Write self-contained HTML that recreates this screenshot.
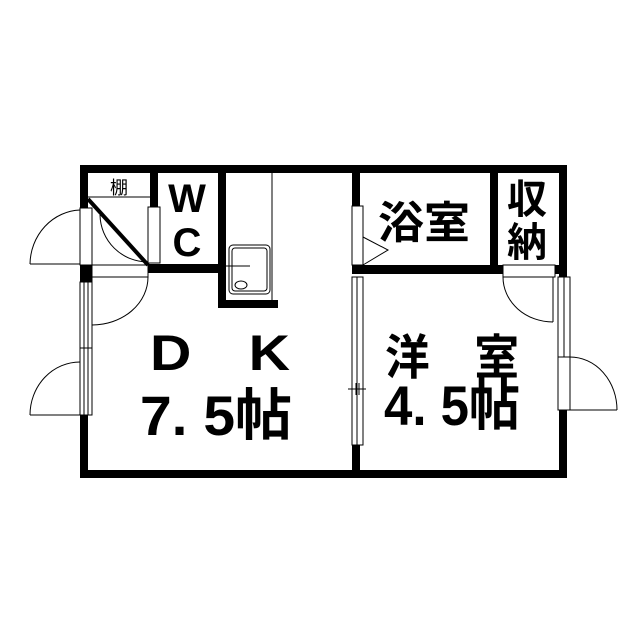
<!DOCTYPE html>
<html><head><meta charset="utf-8"><style>body{margin:0;background:#fff}svg{display:block}text{font-family:"Liberation Sans","Noto Sans CJK JP",sans-serif;fill:#000;font-weight:bold}</style></head><body>
<svg width="640" height="640" viewBox="0 0 640 640" xmlns="http://www.w3.org/2000/svg">
<rect width="640" height="640" fill="#fff"/>
<g fill="#000">
<rect x="80" y="165" width="487" height="8"/>
<rect x="80" y="470" width="487" height="8"/>
<rect x="80" y="165" width="8" height="44"/>
<rect x="80" y="264" width="12" height="18"/>
<rect x="80" y="414" width="8" height="64"/>
<rect x="559" y="165" width="8" height="113"/>
<rect x="559" y="409" width="8" height="69"/>
<rect x="150" y="165" width="8" height="43"/>
<rect x="148" y="264" width="78" height="9"/>
<rect x="218" y="165" width="8" height="143"/>
<rect x="218" y="300" width="60" height="8"/>
<rect x="352" y="165" width="8" height="41"/>
<rect x="352" y="265" width="215" height="9"/>
<rect x="352" y="444" width="8" height="34"/>
<rect x="490" y="165" width="8" height="108"/>
</g>
<g fill="#fff" stroke="#000" stroke-width="1">
<rect x="80" y="208" width="12" height="57"/>
<rect x="148" y="207" width="12" height="56"/>
<rect x="92" y="265" width="56" height="12"/>
<rect x="80" y="282" width="12" height="133"/>
<rect x="352" y="206" width="11" height="59"/>
<rect x="352" y="277" width="11" height="168"/>
<rect x="503" y="265" width="52" height="12"/>
<rect x="558" y="277" width="12" height="80"/>
<rect x="558" y="357" width="12" height="53"/>
</g>
<g fill="none" stroke="#000" stroke-width="1">
<line x1="84" y1="282" x2="84" y2="415"/><line x1="88" y1="282" x2="88" y2="415"/>
<line x1="80" y1="348" x2="92" y2="348"/>
<line x1="357" y1="277" x2="357" y2="445"/>
<line x1="348" y1="389" x2="366" y2="389"/>
<line x1="356" y1="383" x2="356" y2="395"/><line x1="359" y1="383" x2="359" y2="395"/>
<line x1="564" y1="277" x2="564" y2="357"/>
<line x1="88" y1="197" x2="150" y2="197"/>
<line x1="30" y1="264" x2="80" y2="264"/>
<path d="M80 210 A52 55 0 0 0 30 264"/>
<line x1="30" y1="415" x2="80" y2="415"/>
<path d="M80 362 A50 53 0 0 0 30 415"/>
<path d="M100 215 A48 48 0 0 0 148 262"/>
<line x1="92" y1="277" x2="92" y2="325"/>
<path d="M148 277 A56 48 0 0 1 92 325"/>
<line x1="553" y1="277" x2="553" y2="322"/>
<path d="M503 277 A50 45 0 0 0 553 322"/>
<line x1="570" y1="410" x2="617" y2="410"/>
<path d="M570 357 A47 53 0 0 1 617 410"/>
<polyline points="363,237 388,250 363,265"/>
<line x1="272" y1="173" x2="272" y2="300"/>
<rect x="229" y="245" width="41" height="49" rx="4"/>
<rect x="232" y="248" width="35" height="43" rx="3"/>
<ellipse cx="241" cy="285" rx="6" ry="4"/>
<line x1="226" y1="266" x2="250" y2="266"/>
</g>
<line x1="88" y1="199" x2="148" y2="265" stroke="#000" stroke-width="4"/>
<text x="119" y="194" font-size="18" text-anchor="middle" style="font-weight:normal">棚</text>
<text x="187" y="212" font-size="40" text-anchor="middle">W</text>
<text x="187" y="256" font-size="40" text-anchor="middle">C</text>
<text x="378" y="238" font-size="44" textLength="92" lengthAdjust="spacingAndGlyphs">浴室</text>
<text x="527" y="213" font-size="40" text-anchor="middle">収</text>
<text x="527" y="256" font-size="40" text-anchor="middle">納</text>
<text x="150" y="370" font-size="50" textLength="140" lengthAdjust="spacingAndGlyphs">D　K</text>
<text x="140" y="435" font-size="56" textLength="152" lengthAdjust="spacingAndGlyphs">7. 5帖</text>
<text x="385" y="374" font-size="48" textLength="134" lengthAdjust="spacingAndGlyphs">洋　室</text>
<text x="384" y="425" font-size="56" textLength="136" lengthAdjust="spacingAndGlyphs">4. 5帖</text>
</svg>
</body></html>
